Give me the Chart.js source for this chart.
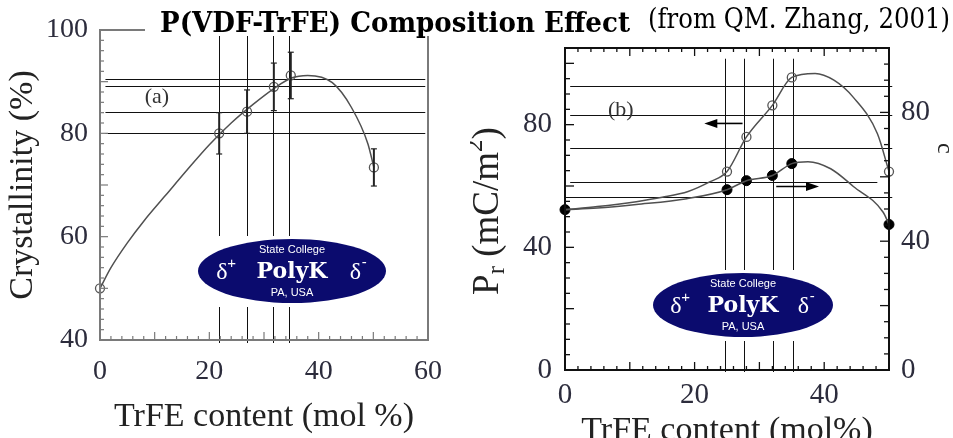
<!DOCTYPE html>
<html>
<head>
<meta charset="utf-8">
<script src="https://cdn.jsdelivr.net/npm/chart.js@4.4.0/dist/chart.umd.min.js"></script>
<style>
  html, body { margin: 0; padding: 0; background: #fff; }
  body { position: relative; width: 953px; height: 438px; overflow: hidden; }
  #left { position: absolute; left: 0; top: 0; }
  #right { position: absolute; left: 470px; top: 0; }
  #titleBox { position: absolute; left: 145px; top: 0; width: 808px; height: 36px; background: #fff; }
  .t { position: absolute; white-space: nowrap; font-family: 'DejaVu Serif'; font-size: 27px;
       line-height: 1; transform-origin: 0 0; color: #000; }
  #tBold { left: 160px; top: 9px; font-weight: bold; }
  #tRest { left: 648px; top: 5px; }
</style>
</head>
<body>
<canvas id="left" width="470" height="438"></canvas>
<canvas id="right" width="500" height="470"></canvas>
<div id="titleBox"></div>
<span class="t" id="tBold">P(VDF-TrFE) Composition Effect</span>
<span class="t" id="tRest">(from QM. Zhang, 2001)</span>

<script>
// (a) crystallinity vs TrFE content
const crystX = [0, 21.8, 26.9, 31.8, 34.9, 50.1];
const crystY = [50, 80, 84.2, 89, 91.2, 73.4];
const crystErr = [0, 4, 4.2, 4.6, 4.5, 3.6];
const crystFitX = [0, 2, 5, 8, 12, 16, 20, 24, 28, 32, 35, 38, 42.5, 46, 49, 50.1];
const crystFitY = [50, 54, 58.8, 63, 68, 73, 77.8, 82, 85.6, 88.8, 90.7, 91.2, 89.8, 85, 78, 73.4];
const crystGuideX = [21.8, 26.9, 31.6, 34.5];
const crystGuideY = [90.6, 89.2, 84.1, 80];
const crystXTicks = [0, 20, 40, 60];
const crystYTicks = [40, 60, 80, 100];

// (b) remanent polarization (left axis, open) and crystallinity (right axis, filled)
const prX = [25, 28, 32, 35, 50];
const prY = [64.7, 76, 86.3, 95.4, 64.7];
const prFitX = [0, 5, 11, 15, 19, 22.4, 25, 28, 32, 35, 38.6, 41.5, 44.5, 48.2, 50];
const prFitY = [52.3, 53.3, 54.9, 56.3, 58.2, 61.4, 64.7, 76, 86.3, 95.4, 96.7, 94.5, 88.9, 77.1, 64.7];
const xcX = [0, 25, 28, 32, 35, 50];
const xcY = [49.8, 56, 58.8, 60.4, 64.1, 45.2];
const xcFitX = [0, 5, 11, 18.8, 25, 28, 32, 35, 37.5, 41, 44.5, 49.1, 50];
const xcFitY = [49.8, 50.3, 51.4, 53.2, 56, 58.8, 60.4, 64.1, 64.7, 62.5, 57, 49, 45.2];
const prGuideX = [24.7, 27.6, 32.1, 35.2];
const prGuideY = [92.5, 83.3, 72.5, 61.4, 56.5];
const prGuideEnd = [50.5, 50.5, 50.5, 48.2, 50.5];
const prArrowX = [27.4, 21.5];
const prArrowY = 80.4;
const xcArrowX = [32.6, 39.2];
const xcArrowY = 57;
const prXTicks = [0, 20, 40];
const prYTicks = [0, 40, 80];
const xcYTicks = [0, 40, 80];

const serif = 'Liberation Serif';
const labelCol = '#2c2c3c';
const curveCol = '#505050';
Chart.defaults.font.family = serif;

const pts = (xs, ys) => xs.map((x, i) => ({ x, y: ys[i] }));
const tickList = arr => s => { s.ticks = arr.map(v => ({ value: v })); };

function line(ctx, x1, y1, x2, y2) {
  ctx.beginPath(); ctx.moveTo(x1, y1); ctx.lineTo(x2, y2); ctx.stroke();
}

// inward tick marks along one side of the plot frame
function ticks(ctx, scale, a, side, from, to, step, majorEvery, minLen, majLen) {
  const n = Math.round((to - from) / step);
  for (let i = 0; i <= n; i++) {
    const v = from + i * step;
    const len = (Math.round(v / majorEvery * 1000) % 1000 === 0) ? majLen : minLen;
    const p = scale.getPixelForValue(v);
    if (side === 'bottom') line(ctx, p, a.bottom, p, a.bottom - len);
    if (side === 'top') line(ctx, p, a.top, p, a.top + len);
    if (side === 'left') line(ctx, a.left, p, a.left + len, p);
    if (side === 'right') line(ctx, a.right, p, a.right - len, p);
  }
}

function arrow(ctx, x1, y, x2) {
  const dir = Math.sign(x2 - x1);
  ctx.lineWidth = 1.6;
  line(ctx, x1, y, x2 - dir * 10, y);
  ctx.beginPath();
  ctx.moveTo(x2, y);
  ctx.lineTo(x2 - dir * 13, y - 4.5);
  ctx.lineTo(x2 - dir * 13, y + 4.5);
  ctx.closePath();
  ctx.fill();
}

function logo(ctx, cx, cy, rx, ry) {
  ctx.save();
  ctx.fillStyle = '#fff';
  ctx.fillRect(cx - rx - 3, cy - ry - 3, 2 * rx + 6, 2 * ry + 7);
  ctx.fillStyle = '#0b0b6e';
  ctx.beginPath();
  ctx.ellipse(cx, cy, rx, ry, 0, 0, Math.PI * 2);
  ctx.fill();
  ctx.fillStyle = '#fff';
  ctx.textAlign = 'center';
  ctx.textBaseline = 'middle';
  ctx.font = '11px "Liberation Sans"';
  ctx.fillText('State College', cx, cy - 21);
  ctx.fillText('PA, USA', cx, cy + 22);
  ctx.font = 'bold 22px "DejaVu Serif"';
  ctx.fillText('PolyK', cx, cy + 1);
  ctx.font = '24px "Liberation Serif"';
  ctx.textAlign = 'left';
  const dx = rx * 0.72;
  ctx.fillText('δ', cx - dx - 8, cy + 2);
  ctx.fillText('δ', cx + dx - 10, cy + 2);
  ctx.font = '15px "Liberation Sans"';
  ctx.fillText('+', cx - dx + 3, cy - 7);
  ctx.fillText('-', cx + dx + 2, cy - 8);
  ctx.restore();
}

const commonOpts = {
  responsive: false,
  animation: false,
  events: [],
  plugins: { legend: { display: false }, tooltip: { enabled: false } }
};

// ---------- panel (a) ----------
new Chart(document.getElementById('left'), {
  type: 'scatter',
  data: {
    datasets: [
      { data: pts(crystFitX, crystFitY), showLine: true, borderColor: curveCol, borderWidth: 1.5,
        pointRadius: 0, cubicInterpolationMode: 'monotone', clip: false },
      { data: pts(crystX, crystY), showLine: false, pointRadius: 4.5, pointBorderColor: '#555',
        pointBackgroundColor: 'rgba(255,255,255,0)', pointBorderWidth: 1.3, clip: false }
    ]
  },
  options: {
    ...commonOpts,
    layout: { padding: { top: 30, right: 42, left: 0, bottom: 0 } },
    scales: {
      x: {
        type: 'linear', min: 0, max: 60,
        grid: { display: false, drawTicks: false }, border: { display: false },
        afterBuildTicks: tickList(crystXTicks),
        afterFit: s => { s.height = 98; },
        ticks: { font: { size: 28 }, color: labelCol, padding: 15, maxRotation: 0 },
        title: { display: true, text: 'TrFE content (mol %)', font: { size: 34 }, color: '#222',
                 padding: { top: 0, bottom: 1 } }
      },
      y: {
        min: 40, max: 100,
        grid: { display: false, drawTicks: false }, border: { display: false },
        afterBuildTicks: tickList(crystYTicks),
        afterFit: s => { s.width = 100; },
        ticks: { font: { size: 28 }, color: labelCol, padding: 12 },
        title: { display: true, text: 'Crystallinity (%)', font: { size: 34 }, color: '#222',
                 padding: { top: 3, bottom: 0 } }
      }
    }
  },
  plugins: [{
    id: 'crystExtras',
    beforeDatasetsDraw(chart) {
      const { ctx, chartArea: a, scales: { x, y } } = chart;
      ctx.save();
      ctx.strokeStyle = '#111';
      ctx.lineWidth = 1;
      crystGuideX.forEach(v => {
        const px = Math.round(x.getPixelForValue(v)) + 0.5;
        line(ctx, px, a.top, px, a.bottom + 3);
      });
      crystGuideY.forEach(v => {
        const py = Math.round(y.getPixelForValue(v)) + 0.5;
        line(ctx, x.getPixelForValue(1), py, x.getPixelForValue(59.5), py);
      });
      ctx.restore();
    },
    afterDatasetsDraw(chart) {
      const { ctx, chartArea: a, scales: { x, y } } = chart;
      ctx.save();
      // error bars
      ctx.strokeStyle = '#222';
      ctx.lineWidth = 2;
      crystX.forEach((v, i) => {
        if (!crystErr[i]) return;
        const px = x.getPixelForValue(v);
        const top = y.getPixelForValue(crystY[i] + crystErr[i]);
        const bot = y.getPixelForValue(crystY[i] - crystErr[i]);
        line(ctx, px, top, px, bot);
        ctx.lineWidth = 1.2;
        line(ctx, px - 3, top, px + 3, top);
        line(ctx, px - 3, bot, px + 3, bot);
        ctx.lineWidth = 2;
      });
      // frame and inward ticks
      ctx.strokeStyle = '#7a7a7a';
      ctx.lineWidth = 2;
      ctx.strokeRect(a.left, a.top, a.width, a.height);
      ctx.lineWidth = 1.2;
      ticks(ctx, x, a, 'bottom', 0, 60, 2, 10, 4, 8);
      ticks(ctx, y, a, 'left', 40, 100, 2, 10, 4, 8);
      // panel tag
      ctx.fillStyle = '#333';
      ctx.font = '22px "Liberation Serif"';
      ctx.textAlign = 'center';
      ctx.textBaseline = 'middle';
      ctx.fillText('(a)', x.getPixelForValue(10.4), y.getPixelForValue(87));
      ctx.restore();
      logo(ctx, (a.left + a.right) / 2 + 28, a.bottom - 69, 94, 32);
    }
  }]
});

// ---------- panel (b) ----------
new Chart(document.getElementById('right'), {
  type: 'scatter',
  data: {
    datasets: [
      { data: pts(prFitX, prFitY), yAxisID: 'y', showLine: true, borderColor: curveCol, borderWidth: 1.5,
        pointRadius: 0, cubicInterpolationMode: 'monotone', clip: false },
      { data: pts(xcFitX, xcFitY), yAxisID: 'y2', showLine: true, borderColor: curveCol, borderWidth: 1.5,
        pointRadius: 0, cubicInterpolationMode: 'monotone', clip: false },
      { data: pts(prX, prY), yAxisID: 'y', showLine: false, pointRadius: 4.5, pointBorderColor: '#555',
        pointBackgroundColor: 'rgba(255,255,255,0)', pointBorderWidth: 1.3, clip: false },
      { data: pts(xcX, xcY), yAxisID: 'y2', showLine: false, pointRadius: 5, pointBorderColor: '#000',
        pointBackgroundColor: '#000', pointBorderWidth: 1, clip: false }
    ]
  },
  options: {
    ...commonOpts,
    layout: { padding: { top: 48, right: 0, left: 0, bottom: 0 } },
    scales: {
      x: {
        type: 'linear', min: 0, max: 50,
        grid: { display: false, drawTicks: false }, border: { display: false },
        afterBuildTicks: tickList(prXTicks),
        afterFit: s => { s.height = 100; },
        ticks: { font: { size: 29 }, color: labelCol, padding: 8, maxRotation: 0 },
        title: { display: true, text: 'TrFE content (mol%)', font: { size: 34 }, color: '#222',
                 padding: { top: 0, bottom: 18.6 } }
      },
      y: {
        min: 0, max: 105,
        grid: { display: false, drawTicks: false }, border: { display: false },
        afterBuildTicks: tickList(prYTicks),
        afterFit: s => { s.width = 95; },
        ticks: { font: { size: 29 }, color: labelCol, padding: 13 }
      },
      y2: {
        position: 'right', min: 0, max: 100,
        grid: { display: false, drawTicks: false }, border: { display: false },
        afterBuildTicks: tickList(xcYTicks),
        afterFit: s => { s.width = 81; },
        ticks: { font: { size: 29 }, color: labelCol, padding: 12 }
      }
    }
  },
  plugins: [{
    id: 'prExtras',
    beforeDatasetsDraw(chart) {
      const { ctx, chartArea: a, scales: { x, y } } = chart;
      ctx.save();
      ctx.strokeStyle = '#111';
      ctx.lineWidth = 1;
      prGuideX.forEach(v => {
        const px = Math.round(x.getPixelForValue(v)) + 0.5;
        line(ctx, px, y.getPixelForValue(101.5), px, a.bottom + 2);
      });
      prGuideY.forEach((v, i) => {
        const py = Math.round(y.getPixelForValue(v)) + 0.5;
        const start = i === prGuideY.length - 1 ? 0 : 0.8;
        line(ctx, x.getPixelForValue(start), py, x.getPixelForValue(prGuideEnd[i]), py);
      });
      ctx.restore();
    },
    afterDatasetsDraw(chart) {
      const { ctx, chartArea: a, scales: { x, y, y2 } } = chart;
      ctx.save();
      // frame and inward ticks on all four sides
      ctx.strokeStyle = '#111';
      ctx.lineWidth = 2;
      ctx.strokeRect(a.left, a.top, a.width, a.height);
      ctx.lineWidth = 1.3;
      ticks(ctx, x, a, 'bottom', 0, 50, 2, 10, 4, 8);
      ticks(ctx, x, a, 'top', 0, 50, 2, 10, 4, 8);
      ticks(ctx, y, a, 'left', 0, 105, 5, 20, 5, 9);
      ticks(ctx, y2, a, 'right', 0, 100, 5, 20, 5, 9);
      // arrows pointing to each curve's axis
      ctx.strokeStyle = '#000';
      ctx.fillStyle = '#000';
      arrow(ctx, x.getPixelForValue(prArrowX[0]), y.getPixelForValue(prArrowY), x.getPixelForValue(prArrowX[1]));
      arrow(ctx, x.getPixelForValue(xcArrowX[0]), y2.getPixelForValue(xcArrowY), x.getPixelForValue(xcArrowX[1]));
      // panel tag
      ctx.fillStyle = '#333';
      ctx.font = '22px "Liberation Serif"';
      ctx.textAlign = 'center';
      ctx.textBaseline = 'middle';
      ctx.fillText('(b)', x.getPixelForValue(8.6), y.getPixelForValue(84.6));

      // left axis title: P_r (mC/m^2), read bottom to top
      const parts = [
        ['P', 37, 0], ['r', 25, 9], [' (mC/m', 37, 0], ['2', 25, -13], [')', 37, 0]
      ];
      ctx.textAlign = 'left';
      ctx.textBaseline = 'middle';
      ctx.fillStyle = '#222';
      let total = 0;
      parts.forEach(p => { ctx.font = p[1] + 'px "Liberation Serif"'; total += ctx.measureText(p[0]).width; });
      ctx.save();
      ctx.translate(18, (a.top + a.bottom) / 2 + 2);
      ctx.rotate(-Math.PI / 2);
      let cx = -total / 2;
      parts.forEach(p => {
        ctx.font = p[1] + 'px "Liberation Serif"';
        ctx.fillText(p[0], cx, p[2]);
        cx += ctx.measureText(p[0]).width;
      });
      ctx.restore();

      // right axis title, mostly beyond the page edge
      ctx.save();
      ctx.translate(491, 128);
      ctx.rotate(Math.PI / 2);
      ctx.textBaseline = 'alphabetic';
      ctx.font = '34px "Liberation Serif"';
      ctx.fillText('χ', 0, 0);
      let w = ctx.measureText('χ').width;
      ctx.font = '24px "Liberation Serif"';
      ctx.fillText('c', w, 23);
      w += ctx.measureText('c').width;
      ctx.font = '34px "Liberation Serif"';
      ctx.fillText(' (%)', w, 0);
      ctx.restore();

      ctx.restore();
      logo(ctx, (a.left + a.right) / 2 + 16, a.bottom - 65, 90, 32);
    }
  }]
});

// squeeze the heading pieces to their measured widths
function fitText(id, width) {
  const el = document.getElementById(id);
  const w = el.getBoundingClientRect().width;
  el.style.transform = 'scaleX(' + (width / w) + ')';
}
fitText('tBold', 470);
fitText('tRest', 302);
</script>
</body>
</html>
